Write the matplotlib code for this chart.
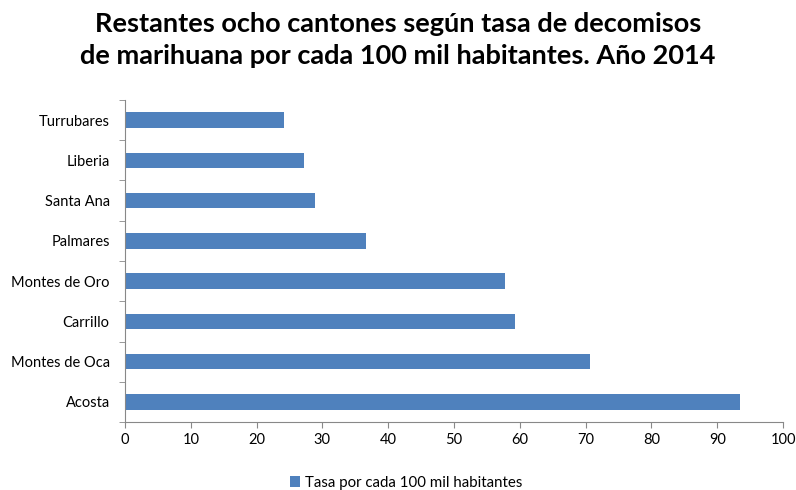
import matplotlib
matplotlib.use("Agg")
import matplotlib.pyplot as plt
import numpy as np

# Cantones (bottom to top as drawn) and rates per 100k inhabitants
cantones = ["Acosta", "Montes de Oca", "Carrillo", "Montes de Oro",
            "Palmares", "Santa Ana", "Liberia", "Turrubares"]
tasas = [93.4, 70.7, 59.3, 57.8, 36.6, 28.9, 27.2, 24.1]
x_ticks = list(range(0, 101, 10))

titulo = ("Restantes ocho cantones según tasa de decomisos\n"
          "de marihuana por cada 100 mil habitantes. Año 2014")
serie = "Tasa por cada 100 mil habitantes"

plt.rcParams["font.family"] = ["Lato", "DejaVu Sans"]

fig = plt.figure(figsize=(7.96, 4.90), dpi=100)
ax = fig.add_axes([125 / 796, 1 - 422 / 490, (783 - 125) / 796, (422 - 100) / 490])

y = np.arange(len(cantones))
ax.barh(y, tasas, height=0.38, color="#4f81bd", label=serie)

ax.set_xlim(0, 100)
ax.set_ylim(-0.5, len(cantones) - 0.5)
ax.set_xticks(x_ticks)
ax.set_xticklabels([str(v) for v in x_ticks], fontsize=10.5)
ax.set_yticks(y)
ax.set_yticklabels(cantones, fontsize=10.5)

# ticks on category boundaries for the y axis
ax.set_yticks(np.arange(-0.5, len(cantones), 1), minor=True)
ax.tick_params(axis="y", which="major", length=0, pad=11)
ax.tick_params(axis="y", which="minor", length=4, color="#888888", direction="out")
ax.tick_params(axis="x", length=4, color="#888888", direction="out", pad=4)

for side in ("top", "right"):
    ax.spines[side].set_visible(False)
for side in ("left", "bottom"):
    ax.spines[side].set_color("#888888")

fig.suptitle(titulo, fontsize=19.5, fontweight="bold", y=0.975, linespacing=1.4)

fig.legend(loc="lower center", bbox_to_anchor=(0.51, -0.027), frameon=False,
           fontsize=10.8, handlelength=0.7, handleheight=0.7, handletextpad=0.3)

fig.savefig("out.png", dpi=100)
